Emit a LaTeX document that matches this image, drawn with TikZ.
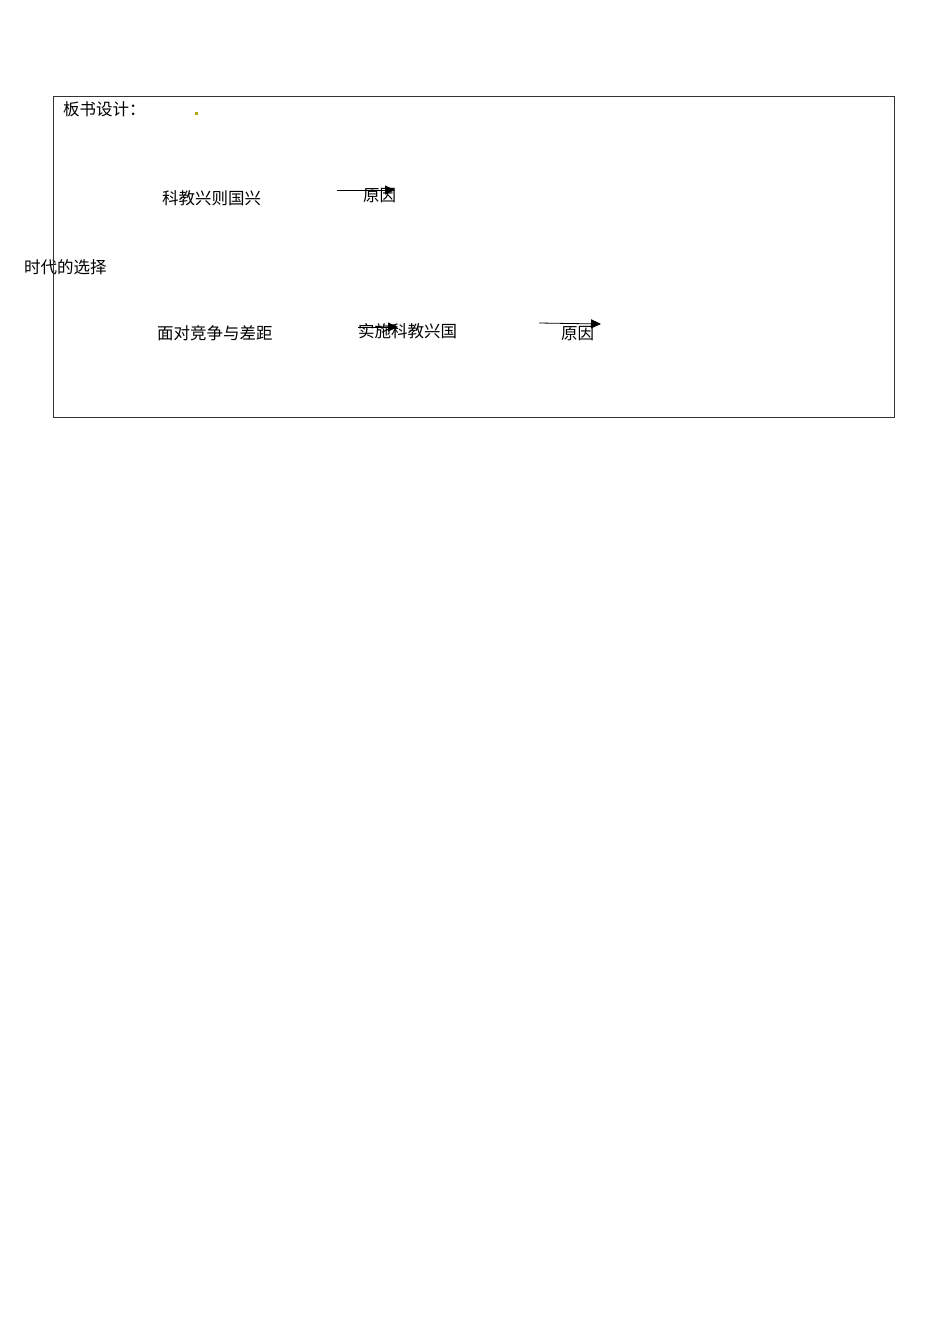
\documentclass[tikz,border=0pt]{standalone}
\usepackage{fontspec}
\newfontfamily\cjk{Noto Sans CJK SC}
\usetikzlibrary{arrows.meta}
\begin{document}
\begin{tikzpicture}[x=1pt,y=-1pt,
  lbl/.style={anchor=west,inner sep=0pt,font=\cjk\fontsize{16.5}{17}\selectfont},
  arr/.style={-{Triangle[length=10pt,width=9pt]},line width=0.8pt},
  frame/.style={draw=black!80,line width=0.8pt}]
\useasboundingbox[fill=white] (0,0) rectangle (950,1344);
\draw[frame] (53,96) rectangle (894,417);
\node[lbl] (title) at (63,109) {板书设计：};
\fill[olive!70!yellow] (195,112) rectangle (198,115);
\node[lbl] (a1) at (162,198) {科教兴则国兴};
\node[lbl] (r1) at (363,196) {原因};
\coordinate (s1) at (337,190);
\coordinate (e1) at (395,190);
\draw[arr] (s1) -- (e1);
\node[lbl] (root) at (24,267) {时代的选择};
\node[lbl] (a2) at (157,333) {面对竞争与差距};
\node[lbl] (b2) at (358,331) {实施科教兴国};
\coordinate (s2) at (358,327);
\coordinate (e2) at (398,327);
\draw[arr] (s2) -- (e2);
\node[lbl] (r2) at (561,334) {原因};
\coordinate (s3) at (539,323);
\coordinate (e3) at (601,324);
\draw[arr] (s3) -- (e3);
\draw[frame] (53,96) -- (53,417);
\end{tikzpicture}
\end{document}
